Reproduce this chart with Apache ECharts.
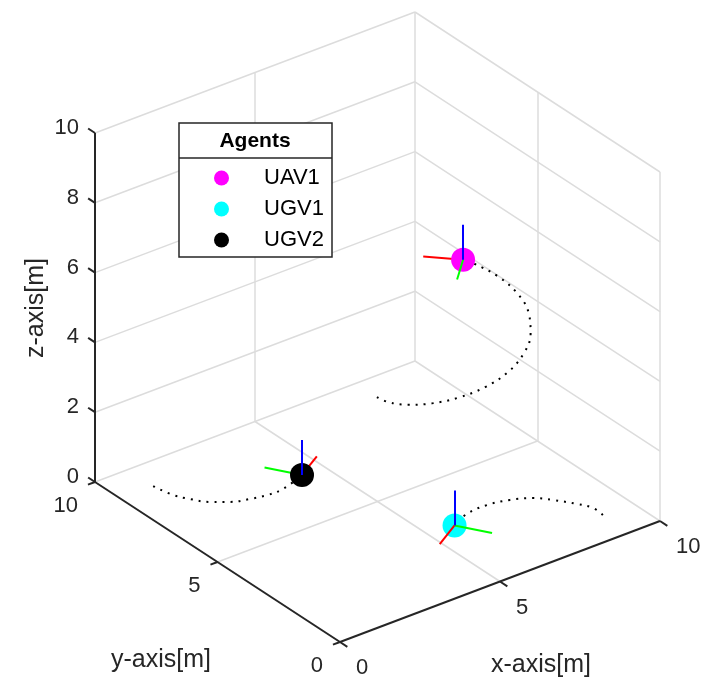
<!DOCTYPE html>
<html>
<head>
<meta charset="utf-8">
<title>Agents</title>
<script src="https://cdn.jsdelivr.net/npm/echarts@6/dist/echarts.min.js"></script>
<style>
html, body { margin: 0; padding: 0; background: #fff; }
#main { width: 705px; height: 688px; }
</style>
</head>
<body>
<div id="main"></div>
<script>
// tick values of the three axes
const xTicks = [0, 5, 10]
const yTicks = [0, 5, 10]
const zTicks = [0, 2, 4, 6, 8, 10]

// agents: current position [x, y, z] and heading in degrees
const agentNames = ['UAV1', 'UGV1', 'UGV2']
const agentColors = ['#ff00ff', '#00ffff', '#000000']
const agentPos = [[8.67, 6.30, 5.06], [5.80, 2.90, 0], [4.31, 7.18, 0]]
const agentHeading = [134, 211, 31]

// travelled paths [x, y, z]
const uav1Path = [
  [5.51, 5.69, 2.50], [5.36, 5.03, 2.71], [5.45, 4.36, 2.91], [5.75, 3.76, 3.12],
  [6.24, 3.30, 3.33], [6.86, 3.04, 3.53], [7.54, 3.00, 3.74], [8.18, 3.20, 3.95],
  [8.72, 3.61, 4.15], [9.09, 4.17, 4.36], [9.24, 4.83, 4.57], [9.16, 5.50, 4.77],
  [8.85, 6.10, 4.98], [8.67, 6.30, 5.06]
]
const ugv1Path = [
  [9.05, 1.09, 0], [9.07, 1.52, 0], [8.87, 1.92, 0], [8.52, 2.43, 0], [8.18, 2.81, 0],
  [7.67, 3.08, 0], [7.06, 3.22, 0], [6.39, 3.17, 0], [5.80, 2.90, 0]
]
const ugv2Path = [
  [1.03, 8.97, 0], [1.15, 8.32, 0], [1.36, 7.91, 0], [1.67, 7.49, 0], [2.07, 7.19, 0],
  [2.55, 7.01, 0], [3.03, 6.90, 0], [3.51, 6.91, 0], [4.31, 7.18, 0]
]

// view: default matlab 3d view, axes box projected onto the plane
const O = [340, 642]
const EX = [32, -12.1]
const EY = [-24.5, -16]
const EZ = [0, -34.9]
const viewer = [-0.61, -0.79, 0.5]
function proj (p) {
  return [O[0] + p[0] * EX[0] + p[1] * EY[0] + p[2] * EZ[0],
    O[1] + p[0] * EX[1] + p[1] * EY[1] + p[2] * EZ[1]]
}
const seg = (a, b) => ({ coords: [proj(a), proj(b)] })

const font = '"Liberation Sans", Arial, Helvetica, sans-serif'
const txtColor = '#262626'

// grid on floor and the two back walls
const gridSegs = [seg([5, 0, 0], [5, 10, 0]), seg([0, 5, 0], [10, 5, 0])]
zTicks.forEach(z => {
  gridSegs.push(seg([0, 10, z], [10, 10, z]))
  gridSegs.push(seg([10, 0, z], [10, 10, z]))
})
xTicks.filter(v => v > 0).forEach(x => gridSegs.push(seg([x, 10, 0], [x, 10, 10])))
yTicks.filter(v => v < 10).forEach(y => gridSegs.push(seg([10, y, 0], [10, y, 10])))

// axis lines and ticks
const axisSegs = [seg([0, 0, 0], [10, 0, 0]), seg([0, 0, 0], [0, 10, 0]), seg([0, 10, 0], [0, 10, 10])]
xTicks.forEach(x => axisSegs.push(seg([x, 0, 0], [x, -0.3, 0])))
yTicks.forEach(y => axisSegs.push(seg([0, y, 0], [-0.22, y, 0])))
zTicks.forEach(z => axisSegs.push(seg([0, 10, z], [0, 10.28, z])))

// body frames (red = heading, green = left, blue = up)
const frameBack = []
const frameFront = []
agentPos.forEach((p, i) => {
  const h = agentHeading[i] * Math.PI / 180
  const dirs = [
    [Math.cos(h), Math.sin(h), 0, '#ff0000'],
    [-Math.sin(h), Math.cos(h), 0, '#00ff00'],
    [0, 0, 1, '#0000ff']
  ]
  dirs.forEach(d => {
    const item = {
      coords: [proj(p), proj([p[0] + d[0], p[1] + d[1], p[2] + d[2]])],
      lineStyle: { color: d[3] }
    }
    const depth = d[0] * viewer[0] + d[1] * viewer[1] + d[2] * viewer[2]
    if (depth > 0) frameFront.push(item)
    else frameBack.push(item)
  })
})

const chart = echarts.init(document.getElementById('main'))

const series = [
  {
    type: 'lines', coordinateSystem: 'cartesian2d', z: 1, silent: true,
    data: gridSegs, lineStyle: { color: '#dcdcdc', width: 1.5, opacity: 1 }
  }
]
;[uav1Path, ugv1Path, ugv2Path].forEach(path => {
  series.push({
    type: 'line', z: 2, smooth: 0.4, symbol: 'none', silent: true,
    data: path.map(proj),
    lineStyle: { color: '#000', width: 2, type: [2, 6] }
  })
})
series.push({
  type: 'lines', coordinateSystem: 'cartesian2d', z: 3, silent: true,
  data: frameBack, lineStyle: { width: 2, opacity: 1 }
})
agentNames.forEach((name, i) => {
  series.push({
    type: 'scatter', name: name, z: 4, symbol: 'circle', symbolSize: 24,
    data: [proj(agentPos[i])], itemStyle: { color: agentColors[i], opacity: 1 }
  })
})
series.push({
  type: 'lines', coordinateSystem: 'cartesian2d', z: 5, silent: true,
  data: frameFront, lineStyle: { width: 2, opacity: 1 }
})
series.push({
  type: 'lines', coordinateSystem: 'cartesian2d', z: 6, silent: true,
  data: axisSegs, lineStyle: { color: txtColor, width: 2, opacity: 1 }
})

chart.setOption({
  animation: false,
  grid: { left: 0, right: 0, top: 0, bottom: 0 },
  xAxis: { type: 'value', min: 0, max: 705, show: false },
  yAxis: { type: 'value', min: 0, max: 688, inverse: true, show: false },
  legend: {
    data: agentNames,
    orient: 'vertical',
    left: 214,
    top: 167,
    z: 20,
    padding: 0,
    itemWidth: 15,
    itemHeight: 15,
    itemGap: 9,
    icon: 'circle',
    selectedMode: false,
    textStyle: { fontFamily: font, fontSize: 22, color: '#000', padding: [0, 0, 0, 30] }
  },
  series: series
})

// texts placed from the projected axis positions
const px = p => chart.convertToPixel({ gridIndex: 0 }, proj(p))
const label = (x, y, text, align, size, extra) => Object.assign({
  type: 'text', x: x, y: y, z: 30,
  style: { text: text, fontFamily: font, fontSize: size, fill: txtColor, align: align, verticalAlign: 'middle' }
}, extra || {})

const graphics = [
  {
    type: 'rect', z: 15, shape: { x: 179, y: 123, width: 153, height: 134 },
    style: { fill: '#fff', stroke: txtColor, lineWidth: 1.5 }
  },
  {
    type: 'line', z: 16, shape: { x1: 179, y1: 158, x2: 332, y2: 158 },
    style: { stroke: txtColor, lineWidth: 1.5 }
  },
  {
    type: 'text', x: 255, y: 141, z: 30,
    style: { text: 'Agents', fontFamily: font, fontSize: 21, fontWeight: 'bold', fill: '#000', align: 'center', verticalAlign: 'middle' }
  }
]
xTicks.forEach(x => {
  const c = px([x, 0, 0])
  graphics.push(label(c[0] + 16, c[1] + 26, String(x), 'left', 22))
})
yTicks.forEach(y => {
  const c = px([0, y, 0])
  graphics.push(label(c[0] - 17, c[1] + 24, String(y), 'right', 22))
})
zTicks.forEach(z => {
  const c = px([0, 10, z])
  graphics.push(label(c[0] - 16, c[1] - 5, String(z), 'right', 22))
})
graphics.push(label(541, 665, 'x-axis[m]', 'center', 25))
graphics.push(label(161, 660, 'y-axis[m]', 'center', 25))
graphics.push(label(36, 308, 'z-axis[m]', 'center', 25, { rotation: Math.PI / 2 }))

chart.setOption({ graphic: graphics })
</script>
</body>
</html>
